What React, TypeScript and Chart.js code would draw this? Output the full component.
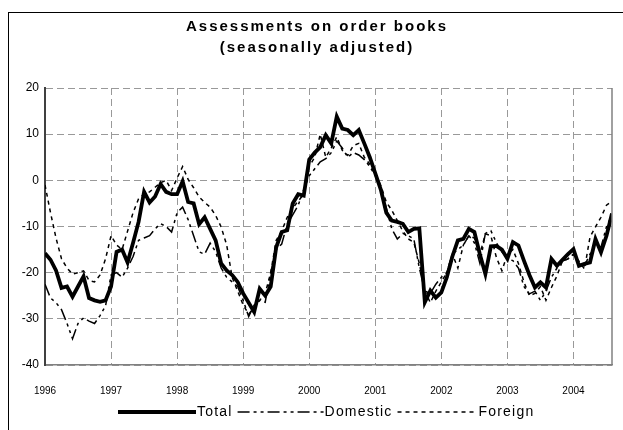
import React, { useEffect, useRef } from 'react';
import { Chart, registerables } from 'chart.js';

Chart.register(...registerables);

const titleLines = ['Assessments on order books', '(seasonally adjusted)'];
const yearLabels = ['1996', '1997', '1998', '1999', '2000', '2001', '2002', '2003', '2004'];
const seriesNames = ['Total', 'Domestic', 'Foreign'];

// Monthly values, January 1996 – August 2004
const total = [
  -15.8, -17.2, -19.5, -23.3, -23.0, -25.2, -23.0, -20.8, -25.5, -26.0,
  -26.3, -26.0, -23.0, -15.5, -15.0, -17.8, -13.5, -9.0, -2.5, -4.8,
  -3.5, -0.8, -2.5, -3.0, -3.0, -0.2, -4.7, -5.0, -9.5, -8.0,
  -10.5, -13.0, -18.0, -19.5, -20.5, -22.0, -24.5, -26.5, -28.5, -23.5,
  -25.0, -23.0, -14.5, -11.2, -10.8, -5.0, -3.0, -3.3, 4.5, 6.0,
  7.2, 9.8, 8.0, 13.8, 11.2, 10.9, 9.8, 10.9, 8.0, 5.0,
  1.5, -2.0, -7.0, -8.7, -9.0, -9.4, -11.2, -10.5, -10.4, -26.4,
  -23.9, -25.4, -24.3, -21.0, -16.5, -13.0, -12.7, -10.5, -11.2, -16.0,
  -20.3, -14.3, -14.2, -15.0, -17.0, -13.4, -14.1, -17.4, -20.5, -23.2,
  -22.1, -23.2, -17.0, -18.5, -17.2, -16.0, -14.9, -18.5, -18.1, -17.8,
  -12.7, -15.6, -12.0, -7.2,
];
const domestic = [
  -22.5, -25.5, -26.5, -28.0, -31.0, -34.3, -31.0, -29.8, -30.5, -31.0,
  -29.3, -27.2, -20.5, -20.0, -21.0, -19.0, -16.5, -13.0, -12.5, -12.0,
  -10.5, -9.4, -10.0, -11.2, -7.0, -5.8, -8.5, -12.0, -15.5, -16.0,
  -13.6, -15.5, -19.0, -21.0, -22.0, -23.0, -26.0, -29.5, -27.0, -26.0,
  -26.4, -20.0, -15.0, -13.8, -9.5, -7.5, -5.4, -2.0, 1.0, 2.5,
  4.0, 4.7, 6.0, 8.5, 7.0, 5.0, 6.0, 5.5, 4.5, 3.0,
  1.0, -1.5, -6.0, -10.5, -12.7, -11.5, -12.0, -12.7, -19.0, -24.0,
  -24.5, -22.5, -21.0, -20.0, -16.0, -15.0, -14.0, -12.0, -13.5, -18.0,
  -11.5, -10.9, -13.5, -15.5, -17.0, -17.4, -19.0, -23.0, -24.6, -24.0,
  -26.0, -24.0, -21.0, -19.0, -17.5, -17.0, -16.0, -18.0, -18.5, -16.0,
  -14.0, -14.5, -10.0, -7.5,
];
const foreign = [
  -1.0, -7.0, -12.5, -17.0, -19.0, -20.3, -20.0, -19.6, -21.7, -22.0,
  -20.5, -17.0, -12.0, -14.0, -15.0, -11.0, -7.0, -4.0, -3.0, -2.5,
  -1.5, -0.5, 0.0, -2.2, 0.5, 3.0, 0.2, -1.6, -3.6, -4.8,
  -5.8, -7.6, -10.1, -14.0, -21.0, -24.0, -27.0, -29.0, -27.5, -26.0,
  -24.5, -20.0, -13.0, -11.0, -8.0, -6.0, -4.5, -3.0, 3.0, 5.0,
  10.0, 5.0, 7.0, 9.4, 6.5, 5.4, 7.5, 8.0, 5.0, 3.5,
  1.4, -1.1, -4.7, -6.5, -8.7, -11.0, -12.7, -13.4, -18.0, -24.0,
  -26.5, -24.0, -22.0, -20.0, -16.0, -19.0, -14.0, -12.0, -12.5, -16.0,
  -11.6, -12.0, -16.7, -19.6, -16.0, -15.0, -18.0, -22.0, -25.0, -24.5,
  -23.0, -26.0, -23.2, -20.7, -17.5, -17.0, -16.0, -17.5, -19.2, -12.3,
  -10.1, -8.0, -5.4, -4.5,
];

const yMin = -40;
const yMax = 20;
const yStep = 10;
const monthsPerYear = 12;

const FONT = 'Arial, "Liberation Sans", sans-serif';

const styles = [
  { color: '#000000', width: 3.8, dash: [] as number[], sample: 78 },
  { color: '#000000', width: 1.5, dash: [12, 4, 3, 4, 3, 4], sample: 86 },
  { color: '#000000', width: 1.5, dash: [4, 4], sample: 80 },
];

const toPoints = (arr: number[]) => arr.map((v, i) => ({ x: i, y: v }));

const decoPlugin = {
  id: 'deco',
  afterDraw(chart: any) {
    const ctx = chart.ctx as CanvasRenderingContext2D;
    const ca = chart.chartArea;
    ctx.save();
    // right border of plot area
    ctx.setLineDash([]);
    ctx.strokeStyle = '#808080';
    ctx.lineWidth = 1.5;
    ctx.beginPath();
    ctx.moveTo(ca.right, ca.top);
    ctx.lineTo(ca.right, ca.bottom);
    ctx.stroke();

    // title
    ctx.fillStyle = '#000';
    ctx.font = `bold 15px ${FONT}`;
    (ctx as any).letterSpacing = '2px';
    ctx.textAlign = 'center';
    ctx.textBaseline = 'middle';
    ctx.fillText(titleLines[0], 317, 27);
    ctx.fillText(titleLines[1], 317, 48);

    // legend
    ctx.font = `14px ${FONT}`;
    (ctx as any).letterSpacing = '1.2px';
    ctx.textAlign = 'left';
    let x = 118;
    const y = 412;
    seriesNames.forEach((name, i) => {
      const s = styles[i];
      ctx.strokeStyle = s.color;
      ctx.lineWidth = s.width;
      ctx.setLineDash(s.dash);
      ctx.beginPath();
      ctx.moveTo(x, y);
      ctx.lineTo(x + s.sample, y);
      ctx.stroke();
      ctx.setLineDash([]);
      ctx.fillText(name, x + s.sample + 1, y);
      x += s.sample + 1 + ctx.measureText(name).width + 5;
    });
    ctx.restore();
  },
};

export default function App() {
  const ref = useRef<HTMLCanvasElement>(null);
  useEffect(() => {
    if (!ref.current) return;
    Chart.defaults.font.family = FONT;
    const chart = new Chart(ref.current, {
      type: 'line',
      data: {
        datasets: [total, domestic, foreign].map((arr, i) => ({
          label: seriesNames[i],
          data: toPoints(arr),
          borderColor: styles[i].color,
          borderWidth: styles[i].width,
          borderDash: styles[i].dash,
          pointRadius: 0,
          tension: 0,
          fill: false,
        })),
      },
      options: {
        animation: false,
        responsive: false,
        devicePixelRatio: 1,
        layout: { padding: { left: 0, right: 11, top: 88, bottom: 35 } },
        plugins: {
          legend: { display: false },
          title: { display: false },
          tooltip: { enabled: false },
        },
        scales: {
          x: {
            type: 'linear',
            min: 0,
            max: total.length - 1,
            afterFit: (s: any) => { s.height = 30; },
            ticks: {
              stepSize: monthsPerYear,
              includeBounds: false,
              autoSkip: false,
              maxRotation: 0,
              padding: 20,
              color: '#000',
              font: { size: 10, family: FONT },
              callback: (v: any) => yearLabels[Math.round(Number(v) / monthsPerYear)] ?? '',
            },
            grid: { color: '#999999', lineWidth: 1, drawTicks: false },
            border: { display: true, color: '#808080', width: 1.5, dash: [7, 4] },
          },
          y: {
            min: yMin,
            max: yMax,
            afterFit: (s: any) => { s.width = 45; },
            ticks: {
              stepSize: yStep,
              padding: 6,
              color: '#000',
              font: { size: 12, family: FONT },
            },
            grid: { color: '#999999', lineWidth: 1, drawTicks: false },
            border: { display: true, color: '#404040', width: 2, dash: [7, 4] },
          },
        },
      },
      plugins: [decoPlugin],
    } as any);
    return () => chart.destroy();
  }, []);

  return (
    <div style={{ position: 'fixed', left: 0, top: 0, width: 623, height: 430, overflow: 'hidden', background: '#fff' }}>
      <div style={{ position: 'absolute', left: 8, top: 12, width: 700, height: 500, border: '1px solid #000' }} />
      <canvas ref={ref} width={623} height={430} style={{ position: 'absolute', left: 0, top: 0, width: 623, height: 430 }} />
    </div>
  );
}
